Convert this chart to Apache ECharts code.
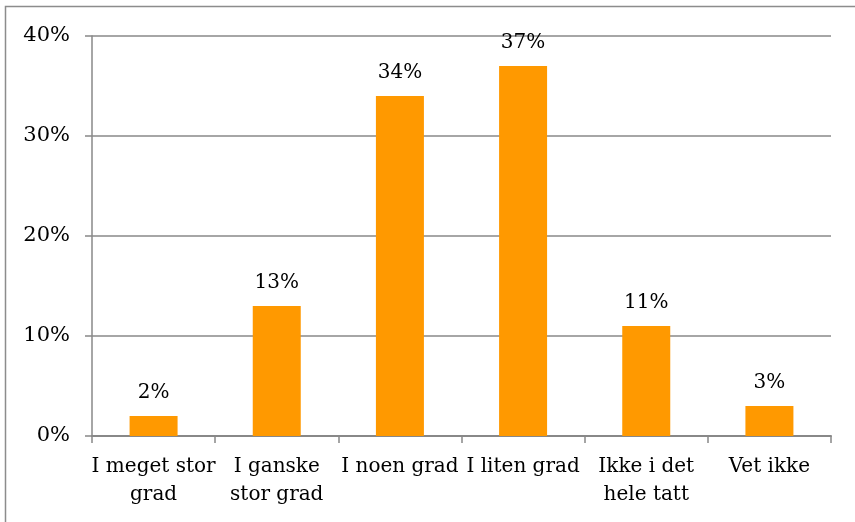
<!DOCTYPE html>
<html><head><meta charset="utf-8">
<script src="https://cdn.jsdelivr.net/npm/echarts@6/dist/echarts.min.js"></script>
<style>html,body{margin:0;padding:0;background:#fff}#c{width:855px;height:522px}</style>
</head><body><div id="c"></div>
<script>
const categories = ["I meget stor\ngrad", "I ganske\nstor grad", "I noen grad", "I liten grad", "Ikke i det\nhele tatt", "Vet ikke"];
const values = [2, 13, 34, 37, 11, 3];
const yTicks = [0, 10, 20, 30, 40];

const font = "DejaVu Serif";
const chart = echarts.init(document.getElementById('c'), null, {renderer: 'canvas'});
chart.setOption({
  animation: false,
  backgroundColor: '#fff',
  graphic: [{type: 'rect', shape: {x: 5.5, y: 6.5, width: 1000, height: 1000}, style: {fill: 'none', stroke: '#8c8c8c', lineWidth: 1.5}, z: 100}],
  grid: {left: 92, right: 24, top: 36, bottom: 86},
  xAxis: {
    type: 'category', data: categories,
    axisLine: {lineStyle: {color: '#888', width: 2}},
    axisTick: {show: true, alignWithLabel: false, length: 7, lineStyle: {color: '#888', width: 1.5}},
    axisLabel: {color: '#000', fontFamily: font, fontSize: 20, lineHeight: 28, margin: 17, interval: 0}
  },
  yAxis: {
    type: 'value', min: yTicks[0], max: yTicks[yTicks.length - 1], interval: 10,
    axisLine: {show: true, lineStyle: {color: '#888', width: 1.5}},
    axisTick: {show: true, length: 7, lineStyle: {color: '#888', width: 1.5}},
    splitLine: {lineStyle: {color: '#888', width: 1.5}},
    axisLabel: {color: '#000', fontFamily: font, fontSize: 21, margin: 22, formatter: v => v + '%'}
  },
  series: [{
    type: 'bar', data: values, barWidth: 48,
    itemStyle: {color: '#FF9900'},
    label: {show: true, position: 'top', distance: 13, color: '#000', fontFamily: font, fontSize: 20, formatter: p => p.value + '%'}
  }]
});
</script></body></html>
